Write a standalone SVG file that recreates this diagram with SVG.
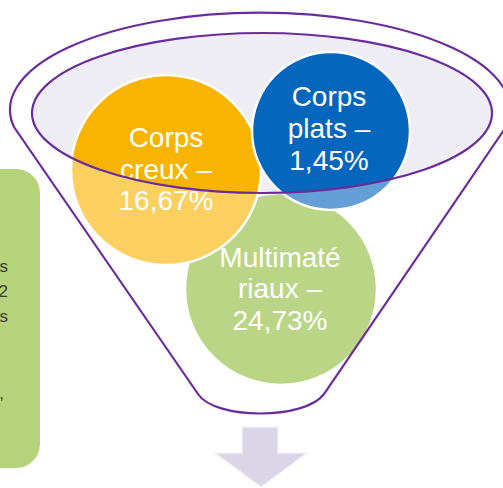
<svg xmlns="http://www.w3.org/2000/svg" width="503" height="488" viewBox="0 0 503 488">
<defs>
<style>
.lbl{font-family:"Liberation Sans",Arial,sans-serif;font-size:28px;fill:#ffffff;text-anchor:middle}
.side{font-family:"Liberation Sans",Arial,sans-serif;font-size:17px;fill:#3a3a3a;text-anchor:end}
.circ{stroke:#ffffff;stroke-width:2.5}
.outline{fill:none;stroke:#6a2c9c;stroke-width:2.2}
</style>
</defs>
<rect width="503" height="488" fill="#ffffff"/>
<g id="side-box">
<rect x="-30" y="169" width="70" height="299" rx="24" ry="24" fill="#b5d37b"/>
<text class="side" x="8" y="272">s</text>
<text class="side" x="8" y="297">2</text>
<text class="side" x="8" y="322">s</text>
<text class="side" x="4" y="399">,</text>
</g>
<g id="funnel">
<path d="M 14,127 A 250 97 0 1 1 506,127 L 324,394 C 305,420 215,420 198,394 Z" fill="#ffffff"/>
<ellipse cx="262" cy="113" rx="230" ry="80" fill="#efedf4"/>
</g>
<g id="multimateriaux">
<circle class="circ" cx="281" cy="289" r="96" fill="#8fbc3a"/>
<text class="lbl" x="280" y="267">Multimaté</text>
<text class="lbl" x="280" y="298">riaux –</text>
<text class="lbl" x="280" y="330">24,73%</text>
</g>
<g id="corps-creux">
<circle class="circ" cx="166" cy="170" r="95" fill="#f8b400"/>
<text class="lbl" x="166" y="147">Corps</text>
<text class="lbl" x="166" y="179">creux –</text>
<text class="lbl" x="166" y="210">16,67%</text>
</g>
<g id="corps-plats">
<circle class="circ" cx="331" cy="131" r="79" fill="#0566bd"/>
<text class="lbl" x="329" y="106">Corps</text>
<text class="lbl" x="329" y="138">plats –</text>
<text class="lbl" x="329" y="170">1,45%</text>
</g>
<g id="funnel-overlay">
<path d="M 14,127 A 250 97 0 1 1 506,127 L 324,394 C 305,420 215,420 198,394 Z M 32,113 A 230 80 0 1 0 492,113 A 230 80 0 1 0 32,113 Z" fill="#ffffff" fill-opacity="0.38" fill-rule="evenodd"/>
<path class="outline" d="M 14,127 A 250 97 0 1 1 506,127 L 324,394 C 305,420 215,420 198,394 Z"/>
<ellipse class="outline" cx="262" cy="113" rx="230" ry="80"/>
</g>
<g id="connectors">
<path d="M 242,427 L 278,427 L 278,453 L 307,453 L 261,487 L 215,453 L 242,453 Z" fill="#dad6e7" stroke="#f2f1f6" stroke-width="1.5"/>
</g>
</svg>
